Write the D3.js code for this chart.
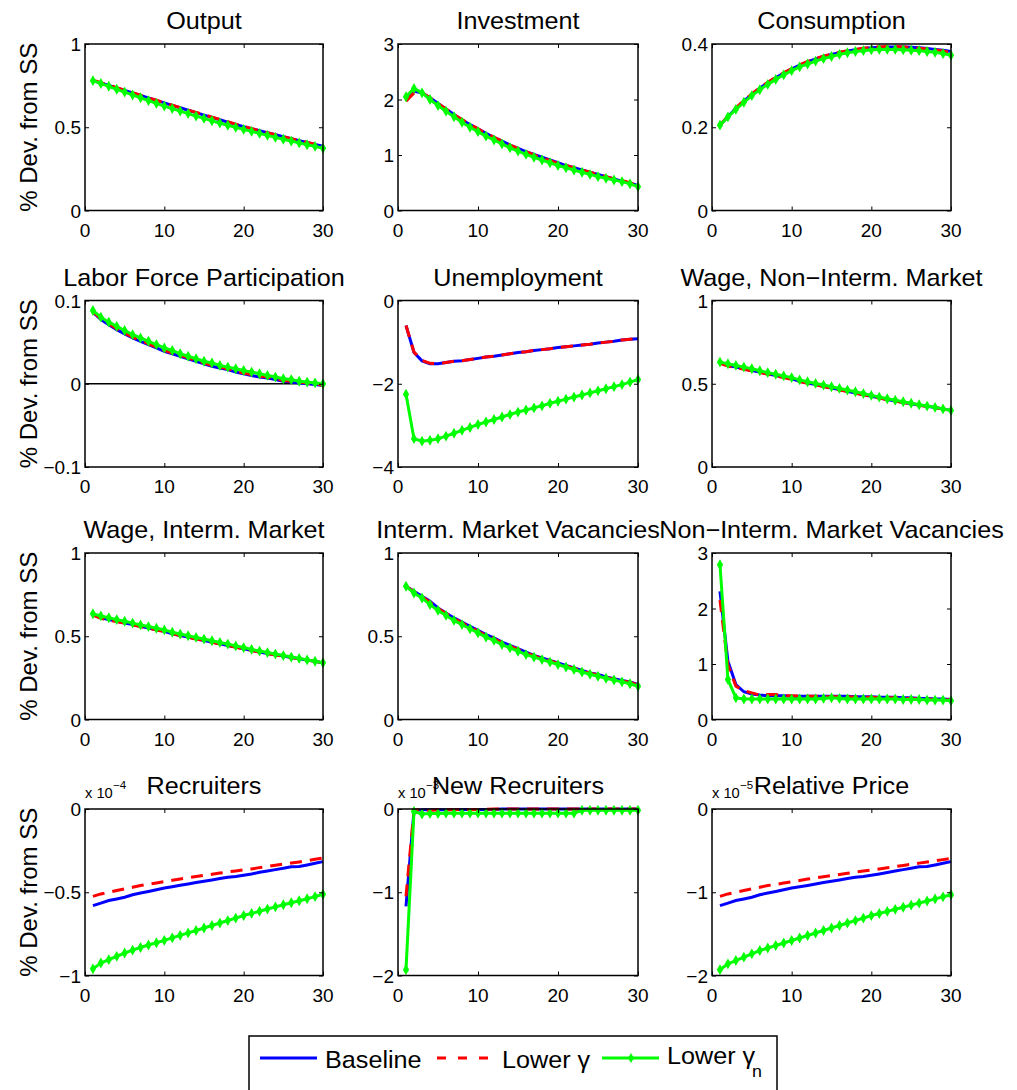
<!DOCTYPE html>
<html>
<head>
<meta charset="utf-8">
<script src="https://cdn.jsdelivr.net/npm/d3@7"></script>
<style>
  body { margin: 0; background: #fff; }
  svg text { font-family: "Liberation Sans", Arial, sans-serif; fill: #000; }
</style>
</head>
<body>
<svg id="chart" width="1017" height="1090"></svg>
<script>
// horizon (quarters)
var periods = d3.range(1, 31);

// panel titles, row by row
var titles = ["Output", "Investment", "Consumption",
              "Labor Force Participation", "Unemployment", "Wage, Non\u2212Interm. Market",
              "Wage, Interm. Market", "Interm. Market Vacancies", "Non\u2212Interm. Market Vacancies",
              "Recruiters", "New Recruiters", "Relative Price"];

// y ticks for each panel
var yTicks = [[0, 0.5, 1], [0, 1, 2, 3], [0, 0.2, 0.4],
              [-0.1, 0, 0.1], [-4, -2, 0], [0, 0.5, 1],
              [0, 0.5, 1], [0, 0.5, 1], [0, 1, 2, 3],
              [-1, -0.5, 0], [-2, -1, 0], [-2, -1, 0]];
var xTicks = [0, 10, 20, 30];
// scale exponents printed above the bottom row
var exponents = ["\u22124", "\u22123", "\u22125"];

// Output
var outBase  = [0.78,0.766,0.751,0.736,0.721,0.706,0.691,0.676,0.661,0.646,0.631,0.617,0.602,0.588,0.573,0.559,0.545,0.531,0.517,0.503,0.491,0.479,0.467,0.455,0.443,0.431,0.419,0.408,0.397,0.386];
var outLowG  = [0.782,0.768,0.753,0.737,0.722,0.707,0.692,0.677,0.662,0.647,0.632,0.618,0.603,0.589,0.575,0.561,0.547,0.533,0.519,0.505,0.492,0.479,0.467,0.455,0.443,0.431,0.42,0.409,0.398,0.384];
var outLowGn = [0.78,0.763,0.746,0.728,0.711,0.694,0.677,0.66,0.643,0.627,0.612,0.597,0.582,0.567,0.553,0.539,0.525,0.512,0.499,0.487,0.475,0.463,0.451,0.439,0.428,0.417,0.406,0.395,0.385,0.374];

// Investment
var invBase  = [2.05,2.15,2.12,2.03,1.93,1.83,1.73,1.63,1.55,1.47,1.39,1.32,1.25,1.18,1.12,1.06,1.01,0.96,0.91,0.86,0.81,0.77,0.73,0.69,0.65,0.61,0.57,0.53,0.49,0.45];
var invLowG  = [1.97,2.12,2.12,2.03,1.93,1.83,1.73,1.64,1.55,1.47,1.39,1.32,1.25,1.18,1.12,1.06,1.0,0.95,0.9,0.85,0.81,0.77,0.73,0.69,0.65,0.61,0.57,0.54,0.5,0.45];
var invLowGn = [2.05,2.2,2.12,2.0,1.89,1.79,1.69,1.59,1.5,1.42,1.34,1.27,1.2,1.13,1.07,1.01,0.96,0.91,0.86,0.81,0.77,0.73,0.69,0.65,0.61,0.58,0.55,0.52,0.48,0.43];

// Consumption
var conBase  = [0.205,0.226,0.245,0.263,0.279,0.294,0.307,0.319,0.33,0.34,0.349,0.357,0.364,0.37,0.375,0.379,0.383,0.386,0.389,0.391,0.392,0.393,0.393,0.393,0.392,0.391,0.389,0.387,0.385,0.382];
var conLowG  = [0.205,0.227,0.246,0.264,0.28,0.295,0.308,0.32,0.331,0.341,0.35,0.358,0.365,0.371,0.376,0.38,0.384,0.387,0.39,0.392,0.393,0.394,0.394,0.393,0.392,0.39,0.388,0.386,0.383,0.38];
var conLowGn = [0.205,0.225,0.243,0.26,0.276,0.29,0.303,0.315,0.326,0.336,0.345,0.352,0.359,0.365,0.37,0.375,0.379,0.382,0.384,0.386,0.387,0.387,0.387,0.386,0.385,0.384,0.382,0.38,0.377,0.373];

// Labor force participation
var lfpBase  = [0.086,0.077,0.071,0.065,0.06,0.055,0.051,0.047,0.043,0.039,0.036,0.033,0.03,0.027,0.024,0.021,0.019,0.017,0.014,0.012,0.01,0.008,0.007,0.005,0.003,0.002,0.001,0.0,-0.001,-0.002];
var lfpLowG  = [0.087,0.078,0.072,0.066,0.061,0.056,0.052,0.048,0.044,0.04,0.037,0.034,0.031,0.028,0.025,0.022,0.02,0.018,0.015,0.013,0.011,0.009,0.008,0.006,0.004,0.003,0.002,0.001,0.0,-0.002];
var lfpLowGn = [0.088,0.08,0.074,0.069,0.064,0.059,0.055,0.051,0.047,0.043,0.04,0.036,0.033,0.03,0.027,0.025,0.022,0.02,0.018,0.016,0.014,0.012,0.01,0.008,0.006,0.005,0.003,0.002,0.001,0.0];

// Unemployment
var uneBase  = [-0.6,-1.25,-1.45,-1.52,-1.52,-1.49,-1.46,-1.45,-1.42,-1.39,-1.36,-1.34,-1.31,-1.28,-1.25,-1.23,-1.2,-1.18,-1.16,-1.13,-1.11,-1.09,-1.07,-1.05,-1.02,-1.0,-0.98,-0.95,-0.93,-0.92];
var uneLowG  = [-0.6,-1.24,-1.44,-1.51,-1.52,-1.49,-1.46,-1.45,-1.42,-1.39,-1.36,-1.34,-1.31,-1.28,-1.25,-1.23,-1.2,-1.18,-1.16,-1.13,-1.11,-1.09,-1.07,-1.05,-1.02,-1.0,-0.98,-0.95,-0.93,-0.92];
var uneLowGn = [-2.25,-3.32,-3.38,-3.36,-3.32,-3.26,-3.19,-3.12,-3.05,-2.98,-2.92,-2.86,-2.8,-2.74,-2.68,-2.63,-2.58,-2.53,-2.47,-2.42,-2.37,-2.32,-2.27,-2.22,-2.17,-2.12,-2.07,-2.02,-1.96,-1.9];

// Wage, non-intermediated market
var wnBase  = [0.625,0.61,0.6,0.59,0.58,0.57,0.56,0.55,0.54,0.53,0.515,0.505,0.495,0.485,0.475,0.465,0.455,0.445,0.435,0.425,0.415,0.405,0.397,0.389,0.38,0.372,0.364,0.357,0.349,0.34];
var wnLowG  = [0.622,0.607,0.597,0.587,0.577,0.567,0.557,0.547,0.537,0.527,0.513,0.503,0.493,0.483,0.473,0.463,0.453,0.443,0.434,0.424,0.414,0.404,0.396,0.388,0.379,0.371,0.363,0.356,0.348,0.34];
var wnLowGn = [0.63,0.62,0.61,0.6,0.59,0.578,0.567,0.557,0.547,0.537,0.523,0.512,0.502,0.492,0.482,0.472,0.462,0.452,0.441,0.43,0.42,0.41,0.401,0.392,0.383,0.374,0.366,0.358,0.349,0.34];

// Wage, intermediated market
var wiBase  = [0.63,0.61,0.6,0.59,0.58,0.57,0.56,0.55,0.54,0.53,0.515,0.505,0.495,0.485,0.475,0.465,0.455,0.445,0.435,0.425,0.415,0.405,0.397,0.389,0.381,0.373,0.365,0.357,0.349,0.34];
var wiLowG  = [0.627,0.607,0.597,0.588,0.578,0.568,0.558,0.548,0.538,0.528,0.514,0.504,0.494,0.484,0.474,0.464,0.454,0.444,0.434,0.424,0.414,0.404,0.396,0.388,0.38,0.372,0.364,0.357,0.349,0.34];
var wiLowGn = [0.635,0.622,0.611,0.6,0.59,0.579,0.568,0.558,0.548,0.538,0.524,0.513,0.503,0.493,0.483,0.473,0.463,0.453,0.442,0.432,0.421,0.411,0.402,0.393,0.384,0.375,0.367,0.358,0.35,0.341];

// Intermediated market vacancies
var ivBase  = [0.8,0.77,0.74,0.71,0.67,0.64,0.61,0.585,0.56,0.535,0.51,0.49,0.465,0.445,0.425,0.405,0.385,0.37,0.355,0.34,0.325,0.31,0.295,0.28,0.27,0.255,0.245,0.235,0.225,0.21];
var ivLowG  = [0.8,0.768,0.737,0.705,0.668,0.637,0.607,0.58,0.555,0.53,0.505,0.485,0.462,0.441,0.421,0.401,0.382,0.367,0.352,0.337,0.322,0.307,0.292,0.278,0.267,0.253,0.242,0.232,0.222,0.208];
var ivLowGn = [0.8,0.76,0.73,0.69,0.655,0.625,0.595,0.57,0.545,0.52,0.495,0.475,0.45,0.43,0.41,0.39,0.375,0.36,0.345,0.33,0.315,0.3,0.285,0.272,0.26,0.248,0.237,0.226,0.215,0.2];

// Non-intermediated market vacancies
var nvBase  = [2.31,1.05,0.63,0.5,0.46,0.44,0.43,0.43,0.43,0.42,0.42,0.42,0.42,0.42,0.42,0.42,0.42,0.41,0.41,0.41,0.4,0.4,0.4,0.39,0.39,0.38,0.38,0.37,0.37,0.36];
var nvLowG  = [2.15,0.98,0.6,0.52,0.48,0.44,0.45,0.45,0.43,0.43,0.42,0.42,0.42,0.41,0.41,0.41,0.41,0.4,0.4,0.4,0.39,0.39,0.39,0.38,0.38,0.37,0.37,0.36,0.36,0.35];
var nvLowGn = [2.79,0.72,0.39,0.37,0.37,0.37,0.37,0.37,0.37,0.37,0.37,0.37,0.37,0.38,0.39,0.38,0.37,0.37,0.37,0.37,0.37,0.37,0.37,0.36,0.36,0.36,0.35,0.35,0.35,0.34];

// Recruiters (x 1e-4)
var recBase  = [-0.58,-0.565,-0.55,-0.54,-0.53,-0.515,-0.505,-0.495,-0.485,-0.475,-0.467,-0.458,-0.45,-0.442,-0.434,-0.426,-0.418,-0.41,-0.405,-0.398,-0.39,-0.38,-0.372,-0.364,-0.356,-0.347,-0.345,-0.336,-0.326,-0.316];
var recLowG  = [-0.525,-0.51,-0.5,-0.49,-0.48,-0.47,-0.46,-0.452,-0.444,-0.436,-0.428,-0.42,-0.413,-0.406,-0.399,-0.392,-0.385,-0.378,-0.372,-0.366,-0.36,-0.352,-0.345,-0.338,-0.331,-0.325,-0.318,-0.31,-0.302,-0.295];
var recLowGn = [-0.96,-0.925,-0.905,-0.885,-0.865,-0.848,-0.832,-0.817,-0.803,-0.789,-0.774,-0.759,-0.744,-0.73,-0.715,-0.7,-0.685,-0.67,-0.655,-0.64,-0.627,-0.614,-0.601,-0.588,-0.575,-0.563,-0.551,-0.539,-0.526,-0.512];

// New recruiters
var nrBase  = [-1.17,-0.02,-0.01,-0.01,-0.01,-0.01,-0.005,-0.005,-0.005,-0.005,-0.005,-0.005,0,0,0,0,0,0,0,0,0,0,0,0,0,0,0,0,0,0];
var nrLowG  = [-1.05,-0.01,-0.015,-0.015,-0.01,-0.01,-0.01,-0.005,-0.005,-0.005,-0.005,0,0,0,0,0,0,0,0,0,0,0,0,0,0,0,0,0,0,0];
var nrLowGn = [-1.93,-0.03,-0.06,-0.055,-0.055,-0.05,-0.05,-0.05,-0.05,-0.05,-0.05,-0.05,-0.05,-0.05,-0.05,-0.05,-0.05,-0.05,-0.05,-0.05,-0.05,-0.05,-0.015,-0.015,-0.015,-0.015,-0.015,-0.015,-0.015,-0.015];

// Relative price
var rpBase  = [-1.16,-1.13,-1.1,-1.08,-1.06,-1.03,-1.01,-0.99,-0.97,-0.95,-0.935,-0.918,-0.9,-0.884,-0.868,-0.852,-0.836,-0.82,-0.81,-0.796,-0.78,-0.762,-0.745,-0.728,-0.712,-0.695,-0.69,-0.672,-0.652,-0.632];
var rpLowG  = [-1.05,-1.02,-1.0,-0.98,-0.96,-0.94,-0.92,-0.905,-0.89,-0.874,-0.858,-0.842,-0.828,-0.814,-0.8,-0.786,-0.772,-0.758,-0.745,-0.733,-0.72,-0.706,-0.692,-0.678,-0.664,-0.65,-0.636,-0.622,-0.608,-0.594];
var rpLowGn = [-1.93,-1.86,-1.82,-1.78,-1.74,-1.7,-1.67,-1.64,-1.61,-1.58,-1.55,-1.52,-1.49,-1.46,-1.43,-1.4,-1.37,-1.34,-1.31,-1.28,-1.255,-1.23,-1.205,-1.18,-1.155,-1.13,-1.105,-1.08,-1.055,-1.03];

var seriesNames = ["Baseline", "Lower \u03b3", "Lower \u03b3"];

//=================================================================

var baseSeries  = [outBase, invBase, conBase, lfpBase, uneBase, wnBase, wiBase, ivBase, nvBase, recBase, nrBase, rpBase];
var lowGSeries  = [outLowG, invLowG, conLowG, lfpLowG, uneLowG, wnLowG, wiLowG, ivLowG, nvLowG, recLowG, nrLowG, rpLowG];
var lowGnSeries = [outLowGn, invLowGn, conLowGn, lfpLowGn, uneLowGn, wnLowGn, wiLowGn, ivLowGn, nvLowGn, recLowGn, nrLowGn, rpLowGn];

// subplot grid
var colLeft = [85, 398, 712];
var colWidth = [238, 240, 239];
var rowTop = [44, 300.5, 553, 809];
var plotH = 166.5;

var svg = d3.select("#chart");

// text slightly wider than tall, like the exported figure
function stretchedText(g, x, y, str, size, anchor, sx) {
    return g.append("text")
        .attr("transform", "translate(" + x + "," + y + ") scale(" + (sx || 1) + ",1)")
        .attr("text-anchor", anchor)
        .style("font-size", size + "px")
        .text(str);
}

function fmt(v) {
    return (v < 0 ? "\u2212" : "") + Math.abs(v);
}

titles.forEach(function(title, p) {
    var row = Math.floor(p / 3), col = p % 3;
    var w = colWidth[col], h = plotH;
    var yt = yTicks[p];

    var g = svg.append("g")
        .attr("transform", "translate(" + colLeft[col] + "," + rowTop[row] + ")");

    var x = d3.scaleLinear().domain([0, 30]).range([0, w]);
    var y = d3.scaleLinear().domain([yt[0], yt[yt.length - 1]]).range([h, 0]);

    var line = d3.line()
        .x(function(d, i) { return x(periods[i]); })
        .y(function(d) { return y(d); });

    // zero line only where the range crosses zero
    if (yt[0] < 0 && yt[yt.length - 1] > 0) {
        g.append("line")
            .attr("x1", 0).attr("x2", w)
            .attr("y1", y(0)).attr("y2", y(0))
            .attr("stroke", "#000").attr("stroke-width", 1.5);
    }

    g.append("path").datum(baseSeries[p])
        .attr("d", line).attr("fill", "none")
        .attr("stroke", "#0000ff").attr("stroke-width", 3);
    g.append("path").datum(lowGSeries[p])
        .attr("d", line).attr("fill", "none")
        .attr("stroke", "#ff0000").attr("stroke-width", 3)
        .attr("stroke-dasharray", "12,8");
    g.append("path").datum(lowGnSeries[p])
        .attr("d", line).attr("fill", "none")
        .attr("stroke", "#00ff00").attr("stroke-width", 3);
    g.selectAll(".mk").data(lowGnSeries[p]).enter()
        .append("path")
        .attr("class", "mk")
        .attr("d", d3.symbol(d3.symbolDiamond, 34))
        .attr("transform", function(d, i) { return "translate(" + x(periods[i]) + "," + y(d) + ")"; })
        .attr("fill", "#00ff00");

    // box
    g.append("rect")
        .attr("width", w).attr("height", h)
        .attr("fill", "none").attr("stroke", "#000").attr("stroke-width", 1.5);

    // inward ticks on all four sides
    var xAx = d3.axisBottom(x).tickValues(xTicks).tickSize(-4).tickFormat("");
    var xAxTop = d3.axisTop(x).tickValues(xTicks).tickSize(-4).tickFormat("");
    var yAx = d3.axisLeft(y).tickValues(yt).tickSize(-4).tickFormat("");
    var yAxR = d3.axisRight(y).tickValues(yt).tickSize(-4).tickFormat("");
    [[xAx, "translate(0," + h + ")"], [xAxTop, null], [yAx, null], [yAxR, "translate(" + w + ",0)"]]
        .forEach(function(a) {
            var ag = g.append("g").call(a[0]);
            if (a[1]) ag.attr("transform", a[1]);
            ag.select(".domain").remove();
            ag.selectAll("line").attr("stroke", "#000").attr("stroke-width", 1);
        });

    // tick labels
    xTicks.forEach(function(t) {
        stretchedText(g, x(t), h + 26, fmt(t), 19, "middle");
    });
    yt.forEach(function(t) {
        stretchedText(g, -4, y(t) + 7, fmt(t), 19, "end");
    });

    // scale factor for bottom row
    if (row === 3) {
        stretchedText(g, 0, -11, "x 10", 14, "start", 1.05);
        stretchedText(g, 28, -20, exponents[col], 11, "start", 1.05);
    }

    // title
    stretchedText(g, w / 2, -15, title, 24, "middle", 1.05);

    // y label on first column
    if (col === 0) {
        g.append("text")
            .attr("transform", "translate(-48," + (h / 2) + ") rotate(-90)")
            .attr("text-anchor", "middle")
            .style("font-size", "24px")
            .text("% Dev. from SS");
    }
});

// Legend
var legend = svg.append("g");
legend.append("rect")
    .attr("x", 249).attr("y", 1036)
    .attr("width", 528).attr("height", 64)
    .attr("fill", "#fff").attr("stroke", "#000").attr("stroke-width", 1.5);

var legendItems = [
    { x: 260, color: "#0000ff", dash: null, marker: false },
    { x: 437, color: "#ff0000", dash: "9,12", marker: false },
    { x: 602, color: "#00ff00", dash: null, marker: true }
];
legendItems.forEach(function(it, i) {
    legend.append("line")
        .attr("x1", it.x).attr("x2", it.x + 57)
        .attr("y1", 1058).attr("y2", 1058)
        .attr("stroke", it.color).attr("stroke-width", 3)
        .attr("stroke-dasharray", it.dash);
    if (it.marker) {
        legend.append("path")
            .attr("d", d3.symbol(d3.symbolDiamond, 30))
            .attr("transform", "translate(" + (it.x + 29) + ",1058)")
            .attr("fill", it.color);
    }
    var ty = i === 2 ? 1064 : 1068;
    stretchedText(legend, it.x + 65, ty, seriesNames[i], 24, "start", 1.05);
});
// subscript n on the last entry
stretchedText(legend, 752, 1077, "n", 17, "start", 1.05);
</script>
</body>
</html>
